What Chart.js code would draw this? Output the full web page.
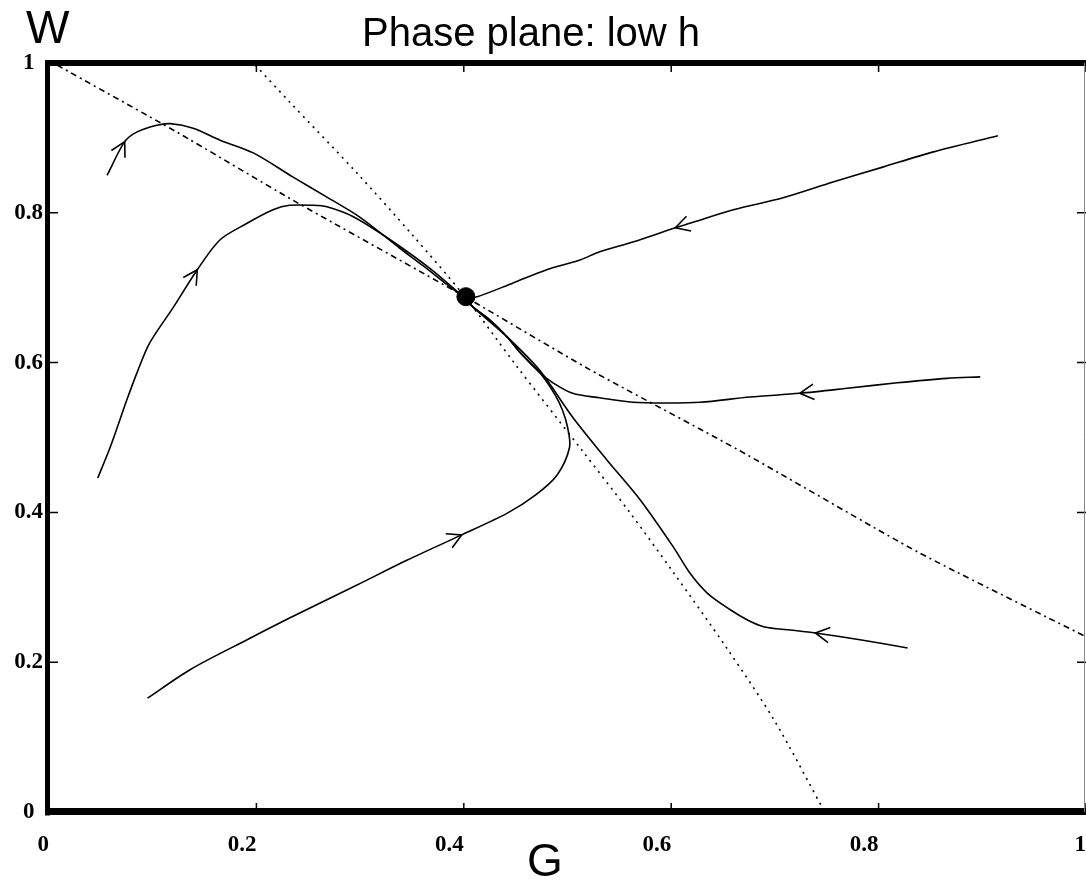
<!DOCTYPE html>
<html>
<head>
<meta charset="utf-8">
<title>Phase plane: low h</title>
<script src="https://cdn.jsdelivr.net/npm/chart.js@4.4.1/dist/chart.umd.min.js"></script>
<style>
  html, body { margin: 0; padding: 0; background: #fff; overflow: hidden; }
</style>
</head>
<body>
<canvas id="phase" width="1086" height="884"></canvas>
<script>
// axis ticks
var xTicks = [0, 0.2, 0.4, 0.6, 0.8, 1];
var yTicks = [0, 0.2, 0.4, 0.6, 0.8, 1];

// nullclines (dotted)
var nullA_G = [0.008, 0.123, 0.235, 0.401, 0.521, 0.664, 0.838, 1.0];
var nullA_W = [0.997, 0.908, 0.817, 0.688, 0.591, 0.484, 0.347, 0.234];
var nullB_G = [0.199, 0.232, 0.297, 0.35, 0.401, 0.45, 0.515, 0.56, 0.602, 0.654, 0.70, 0.748];
var nullB_W = [0.997, 0.948, 0.853, 0.771, 0.688, 0.597, 0.481, 0.40, 0.32, 0.218, 0.121, 0.0];

// trajectories, in direction of motion
var t1G = [0.056, 0.073, 0.085, 0.104, 0.117, 0.139, 0.165, 0.197, 0.235, 0.268, 0.300, 0.338, 0.361, 0.384, 0.401];
var t1W = [0.850, 0.895, 0.908, 0.917, 0.919, 0.913, 0.897, 0.880, 0.848, 0.821, 0.794, 0.753, 0.729, 0.704, 0.686];
var t2G = [0.047, 0.059, 0.075, 0.085, 0.097, 0.120, 0.143, 0.165, 0.191, 0.216, 0.232, 0.255, 0.268, 0.293, 0.329, 0.367, 0.401];
var t2W = [0.446, 0.487, 0.550, 0.587, 0.626, 0.674, 0.724, 0.764, 0.786, 0.804, 0.810, 0.810, 0.808, 0.795, 0.764, 0.726, 0.686];
var t3G = [0.915, 0.852, 0.804, 0.756, 0.708, 0.660, 0.618, 0.604, 0.563, 0.531, 0.512, 0.480, 0.447, 0.413, 0.401];
var t3W = [0.903, 0.881, 0.861, 0.841, 0.820, 0.804, 0.786, 0.780, 0.761, 0.748, 0.737, 0.724, 0.706, 0.688, 0.686];
var t4G = [0.898, 0.866, 0.818, 0.772, 0.724, 0.676, 0.628, 0.596, 0.563, 0.531, 0.505, 0.486, 0.473, 0.454, 0.442, 0.425, 0.409, 0.401];
var t4W = [0.581, 0.579, 0.573, 0.566, 0.559, 0.554, 0.547, 0.546, 0.547, 0.553, 0.559, 0.573, 0.587, 0.614, 0.634, 0.657, 0.674, 0.686];
var t5G = [0.828, 0.782, 0.739, 0.715, 0.690, 0.674, 0.657, 0.635, 0.618, 0.602, 0.570, 0.538, 0.505, 0.473, 0.442, 0.409, 0.401];
var t5W = [0.219, 0.230, 0.239, 0.243, 0.247, 0.256, 0.270, 0.292, 0.319, 0.354, 0.417, 0.470, 0.527, 0.590, 0.634, 0.674, 0.686];
var t6G = [0.095, 0.136, 0.191, 0.232, 0.297, 0.345, 0.398, 0.442, 0.469, 0.490, 0.502, 0.500, 0.495, 0.488, 0.473, 0.454, 0.442, 0.425, 0.409, 0.401];
var t6W = [0.152, 0.190, 0.230, 0.259, 0.303, 0.336, 0.370, 0.399, 0.423, 0.450, 0.487, 0.514, 0.537, 0.557, 0.587, 0.614, 0.634, 0.657, 0.674, 0.686];

// where each arrow head sits (index into the trajectory)
var arrowIdx = [1, 6, 7, 4, 2, 6];

// steady state
var fixedG = [0.402];
var fixedW = [0.688];

function pts(g, w) {
    var out = [];
    for (var i = 0; i < g.length; i++) {
        out.push({ x: g[i], y: w[i] });
    }
    return out;
}

var trajG = [t1G, t2G, t3G, t4G, t5G, t6G];
var trajW = [t1W, t2W, t3W, t4W, t5W, t6W];

var datasets = [];
datasets.push({ data: pts(nullA_G, nullA_W), showLine: true, pointRadius: 0, borderColor: '#000', borderWidth: 1.6, borderDash: [6, 4, 2, 4], tension: 0.2 });
datasets.push({ data: pts(nullB_G, nullB_W), showLine: true, pointRadius: 0, borderColor: '#000', borderWidth: 1.6, borderDash: [2, 5], tension: 0.3 });
for (var k = 0; k < trajG.length; k++) {
    datasets.push({
        data: pts(trajG[k], trajW[k]),
        showLine: true,
        pointRadius: 0,
        borderColor: '#000',
        borderWidth: 1.6,
        tension: 0.3,
        arrowAt: arrowIdx[k]
    });
}
datasets.push({ data: pts(fixedG, fixedW), pointRadius: 9, pointBackgroundColor: '#000', pointBorderColor: '#000', showLine: false });

// box, inner tick marks, arrow heads and labels
var framePlugin = {
    id: 'frame',
    afterDatasetsDraw: function (chart) {
        var ctx = chart.ctx;
        var a = chart.chartArea;
        var xs = chart.scales.x, ys = chart.scales.y;
        ctx.save();
        ctx.strokeStyle = '#000';
        ctx.lineWidth = 1.5;
        ctx.beginPath();
        xTicks.forEach(function (v) {
            var px = xs.getPixelForValue(v);
            ctx.moveTo(px, a.bottom); ctx.lineTo(px, a.bottom - 9);
            ctx.moveTo(px, a.top); ctx.lineTo(px, a.top + 9);
        });
        yTicks.forEach(function (v) {
            var py = ys.getPixelForValue(v);
            ctx.moveTo(a.left, py); ctx.lineTo(a.left + 9, py);
            ctx.moveTo(a.right, py); ctx.lineTo(a.right - 9, py);
        });
        ctx.stroke();

        // arrow heads
        ctx.lineWidth = 1.6;
        chart.data.datasets.forEach(function (ds, i) {
            if (ds.arrowAt == null) return;
            var p = chart.getDatasetMeta(i).data;
            var tip = p[ds.arrowAt], prev = p[ds.arrowAt - 1];
            var ang = Math.atan2(tip.y - prev.y, tip.x - prev.x);
            var L = 16, spread = 0.5;
            ctx.beginPath();
            ctx.moveTo(tip.x - L * Math.cos(ang - spread), tip.y - L * Math.sin(ang - spread));
            ctx.lineTo(tip.x, tip.y);
            ctx.lineTo(tip.x - L * Math.cos(ang + spread), tip.y - L * Math.sin(ang + spread));
            ctx.stroke();
        });

        // box: heavy left/top/bottom, thin right
        ctx.lineWidth = 5;
        ctx.beginPath(); ctx.moveTo(a.left - 1.5, a.top - 3); ctx.lineTo(a.left - 1.5, a.bottom + 3.5); ctx.stroke();
        ctx.lineWidth = 6;
        ctx.beginPath(); ctx.moveTo(a.left - 4, a.top); ctx.lineTo(a.right, a.top); ctx.stroke();
        ctx.lineWidth = 7;
        ctx.beginPath(); ctx.moveTo(a.left - 4, a.bottom - 0.5); ctx.lineTo(a.right, a.bottom - 0.5); ctx.stroke();
        ctx.strokeStyle = '#888';
        ctx.lineWidth = 1;
        ctx.beginPath(); ctx.moveTo(a.right - 1.5, a.top); ctx.lineTo(a.right - 1.5, a.bottom); ctx.stroke();
        ctx.restore();
    },
    afterDraw: function (chart) {
        var ctx = chart.ctx;
        ctx.save();
        ctx.fillStyle = '#000';
        ctx.textBaseline = 'alphabetic';
        ctx.font = '40px "Liberation Sans", Arial, sans-serif';
        ctx.textAlign = 'center';
        ctx.fillText('Phase plane: low h', 531, 46);
        ctx.font = '46px "Liberation Sans", Arial, sans-serif';
        ctx.textAlign = 'left';
        ctx.fillText('W', 26, 43);
        ctx.textAlign = 'center';
        ctx.fillText('G', 545, 876);
        ctx.restore();
    }
};

var tickFont = { family: '"Liberation Serif", "DejaVu Serif", serif', size: 23, weight: 'bold' };

var phaseChart = new Chart(document.getElementById('phase'), {
    type: 'scatter',
    data: { datasets: datasets },
    options: {
        responsive: false,
        animation: false,
        events: [],
        layout: { autoPadding: false, padding: { top: 63, right: 0, bottom: 0, left: 0 } },
        plugins: {
            legend: { display: false },
            tooltip: { enabled: false },
            title: { display: false }
        },
        scales: {
            x: {
                type: 'linear',
                min: 0,
                max: 1,
                afterFit: function (scale) {
                    scale.height = 72;
                    scale.paddingLeft = 0;
                    scale.paddingRight = 0;
                },
                afterBuildTicks: function (scale) {
                    scale.ticks = xTicks.map(function (v) { return { value: v }; });
                },
                grid: { display: false, drawTicks: false },
                border: { display: false },
                ticks: {
                    align: 'end',
                    padding: 19,
                    color: '#000',
                    font: tickFont,
                    maxRotation: 0,
                    callback: function (v) { return String(Math.round(v * 10) / 10); }
                }
            },
            y: {
                type: 'linear',
                min: 0,
                max: 1,
                afterFit: function (scale) {
                    scale.width = 49;
                    scale.paddingTop = 0;
                    scale.paddingBottom = 0;
                },
                afterBuildTicks: function (scale) {
                    scale.ticks = yTicks.map(function (v) { return { value: v }; });
                },
                grid: { display: false, drawTicks: false },
                border: { display: false },
                ticks: {
                    crossAlign: 'center',
                    padding: 6,
                    color: '#000',
                    font: tickFont,
                    callback: function (v) { return String(Math.round(v * 10) / 10); }
                }
            }
        }
    },
    plugins: [framePlugin]
});
</script>
</body>
</html>
